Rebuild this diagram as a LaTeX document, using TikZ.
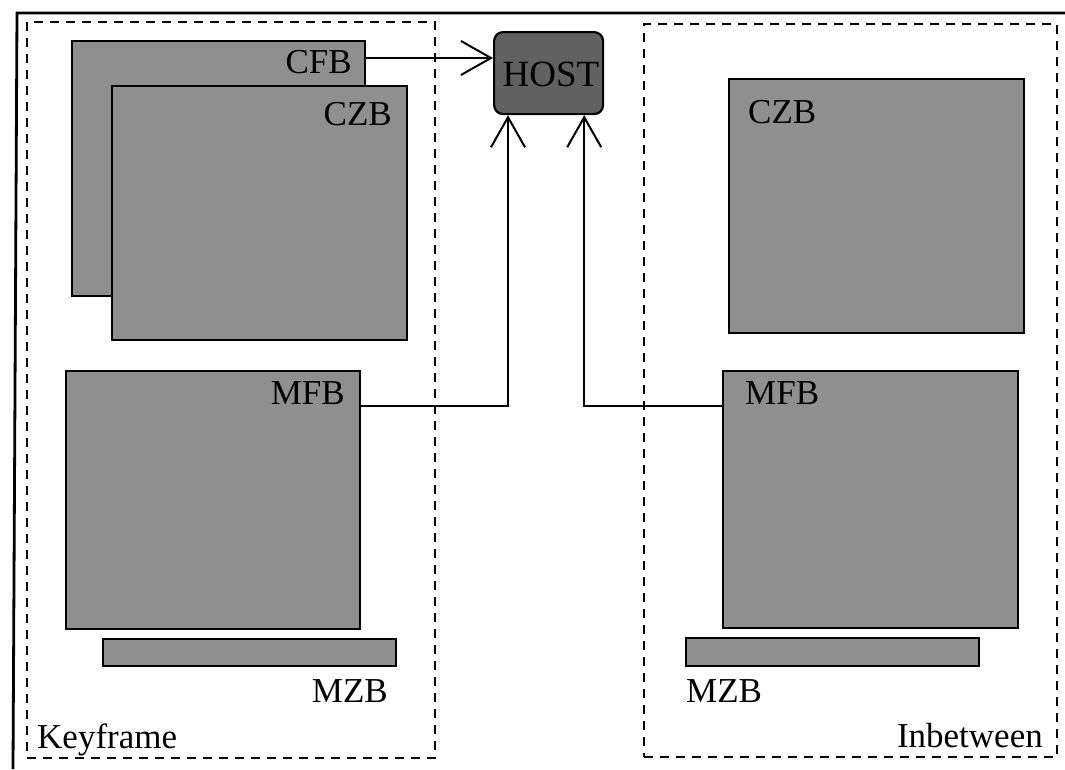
\documentclass[tikz,border=0pt]{standalone}
\usepackage{fontspec}
\setmainfont{Liberation Serif}
\usetikzlibrary{arrows.meta}
\begin{document}
\begin{tikzpicture}[x=1pt,y=-1pt,
  buf/.style={draw=black,line width=2.2pt,fill=black!44,inner sep=0pt,anchor=north west},
  hostbox/.style={draw=black,line width=2.2pt,fill=black!62,rounded corners=9pt,inner sep=0pt,anchor=north west},
  group/.style={draw=black,line width=2.2pt,dash pattern=on 9pt off 7pt,inner sep=0pt,anchor=north west},
  lbl/.style={inner sep=0pt,font=\fontsize{35}{40}\selectfont},
  conn/.style={draw=black,line width=2pt},
  arr/.style={conn,-{Straight Barb[length=30pt,width=34pt,line width=2pt]}},
  frame/.style={draw=black,line width=2.8pt}]
\useasboundingbox (0,0) rectangle (1065,769);
% outer frame (top and left edges)
\draw[frame] (1065,13) -- (17,13) -- (13,769);
% group boxes
\node[group,minimum width=408pt,minimum height=736pt] (keyg) at (26,21) {};
\node[group,minimum width=413pt,minimum height=733pt] (ibg) at (643,23) {};
% keyframe buffers
\node[buf,minimum width=293pt,minimum height=255pt] (cfb) at (71,40) {};
\node[buf,minimum width=295pt,minimum height=254pt] (czbL) at (111,85) {};
\node[buf,minimum width=294pt,minimum height=258pt] (mfbL) at (65,370) {};
\node[buf,minimum width=293pt,minimum height=27pt] (mzbL) at (102,638) {};
% inbetween buffers
\node[buf,minimum width=295pt,minimum height=254pt] (czbR) at (728,78) {};
\node[buf,minimum width=295pt,minimum height=257pt] (mfbR) at (722,370) {};
\node[buf,minimum width=293pt,minimum height=28pt] (mzbR) at (685,637) {};
% host
\node[hostbox,minimum width=109pt,minimum height=82pt] (host) at (493,31) {};
\node[lbl,font=\fontsize{37}{40}\selectfont] (hostt) at (551,74) {HOST};
% labels
\node[lbl,anchor=base east] (tcfb) at (352,73) {CFB};
\node[lbl,anchor=base east] (tczbL) at (392,125) {CZB};
\node[lbl,anchor=base west] (tczbR) at (748,123) {CZB};
\node[lbl,anchor=base east] (tmfbL) at (345,404) {MFB};
\node[lbl,anchor=base west] (tmfbR) at (745,404) {MFB};
\node[lbl,anchor=base east] (tmzbL) at (388,702) {MZB};
\node[lbl,anchor=base west] (tmzbR) at (686,702) {MZB};
\node[lbl,anchor=base west] (tkey) at (37,748) {Keyframe};
\node[lbl,anchor=base east] (tib) at (1043,747) {Inbetween};
% connectors
\draw[arr] (cfb.east |- 0,58) -- (host.west |- 0,58);
\draw[arr] (mfbL.east |- 0,406) -| ([xshift=15pt]host.south west);
\draw[arr] (mfbR.west |- 0,406) -| ([xshift=-20pt]host.south east);
\end{tikzpicture}
\end{document}
